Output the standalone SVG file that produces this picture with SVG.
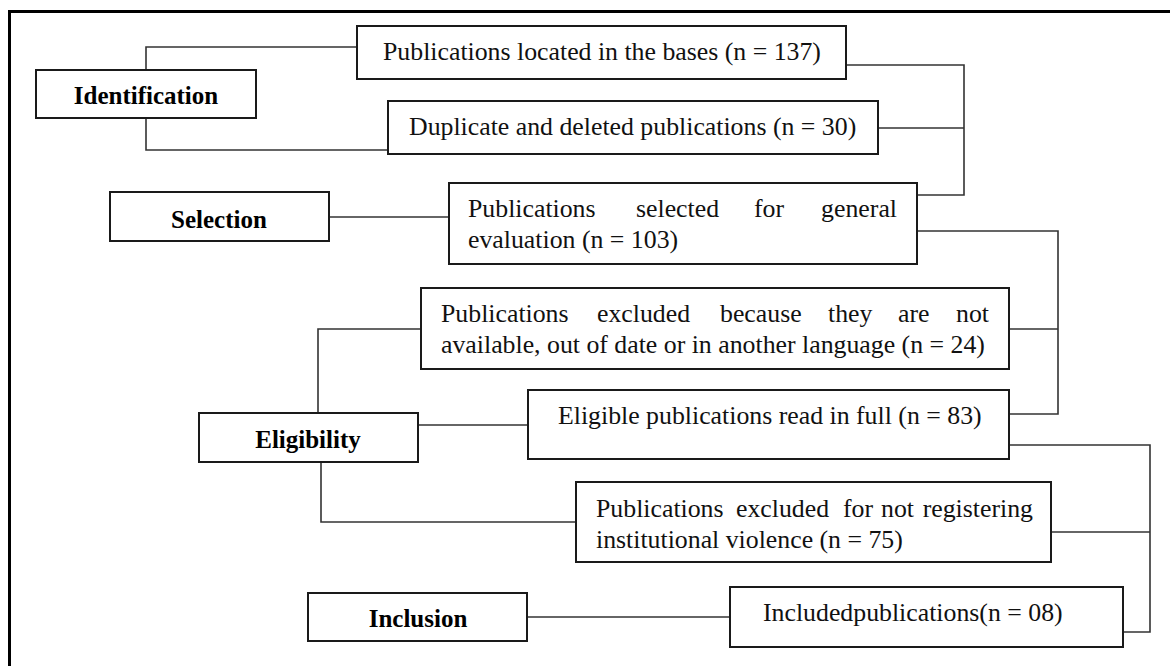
<svg xmlns="http://www.w3.org/2000/svg" width="1170" height="666" viewBox="0 0 1170 666">
<style>
.box{fill:#fff;stroke:#1a1a1a;stroke-width:2}
.lbl{font-family:"Liberation Serif","Times New Roman",serif;font-weight:bold;font-size:25px;fill:#000}
.txt{font-family:"Liberation Serif","Times New Roman",serif;font-size:25.8px;fill:#111}
.con{fill:none;stroke:#333;stroke-width:1.6}
</style>
<rect x="0" y="0" width="1170" height="666" fill="#fff"/>
<path d="M9.5,666 V11.5 H1170" fill="none" stroke="#000" stroke-width="3"/>
<g id="connectors">
<path class="con" d="M146,70 V47 H357"/>
<path class="con" d="M146,118 V150 H388"/>
<path class="con" d="M846,65 H964 V195 H917"/>
<path class="con" d="M878,128 H964"/>
<path class="con" d="M329,217 H449"/>
<path class="con" d="M917,231 H1058 V414 H1009"/>
<path class="con" d="M1009,329 H1058"/>
<path class="con" d="M318,413 V329 H421"/>
<path class="con" d="M418,425 H528"/>
<path class="con" d="M321,462 V522 H576"/>
<path class="con" d="M1009,445 H1150 V632 H1123"/>
<path class="con" d="M1051,532 H1150"/>
<path class="con" d="M527,617 H730"/>
</g>
<g id="identification">
<rect class="box" x="36" y="70" width="220" height="48"/>
<text class="lbl" x="146" y="104" text-anchor="middle">Identification</text>
</g>
<g id="located">
<rect class="box" x="357" y="26" width="489" height="53"/>
<text class="txt" x="383" y="60">Publications located in the bases (n = 137)</text>
</g>
<g id="duplicate">
<rect class="box" x="388" y="101" width="490" height="53"/>
<text class="txt" x="409" y="135">Duplicate and deleted publications (n = 30)</text>
</g>
<g id="selection">
<rect class="box" x="110" y="192" width="219" height="49"/>
<text class="lbl" x="219" y="228" text-anchor="middle">Selection</text>
</g>
<g id="selected">
<rect class="box" x="449" y="183" width="468" height="81"/>
<text class="txt" y="217"><tspan x="468">Publications</tspan><tspan x="636">selected</tspan><tspan x="754">for</tspan><tspan x="897" text-anchor="end">general</tspan></text>
<text class="txt" x="468" y="248">evaluation (n = 103)</text>
</g>
<g id="excluded24">
<rect class="box" x="421" y="288" width="588" height="81"/>
<text class="txt" y="322"><tspan x="441">Publications</tspan><tspan x="597">excluded</tspan><tspan x="720">because</tspan><tspan x="828">they</tspan><tspan x="898">are</tspan><tspan x="989" text-anchor="end">not</tspan></text>
<text class="txt" x="441" y="353">available, out of date or in another language (n = 24)</text>
</g>
<g id="eligibility">
<rect class="box" x="199" y="413" width="219" height="49"/>
<text class="lbl" x="308" y="448" text-anchor="middle">Eligibility</text>
</g>
<g id="eligible">
<rect class="box" x="528" y="390" width="481" height="69"/>
<text class="txt" x="558" y="424">Eligible publications read in full (n = 83)</text>
</g>
<g id="excluded75">
<rect class="box" x="576" y="482" width="475" height="80"/>
<text class="txt" y="517"><tspan x="596">Publications</tspan><tspan x="736">excluded</tspan><tspan x="843">for</tspan><tspan x="881">not</tspan><tspan x="1033" text-anchor="end">registering</tspan></text>
<text class="txt" x="596" y="548">institutional violence (n = 75)</text>
</g>
<g id="inclusion">
<rect class="box" x="308" y="593" width="219" height="48"/>
<text class="lbl" x="418" y="627" text-anchor="middle">Inclusion</text>
</g>
<g id="included">
<rect class="box" x="730" y="587" width="393" height="60"/>
<text class="txt" x="763" y="621">Includedpublications(n = 08)</text>
</g>
</svg>
